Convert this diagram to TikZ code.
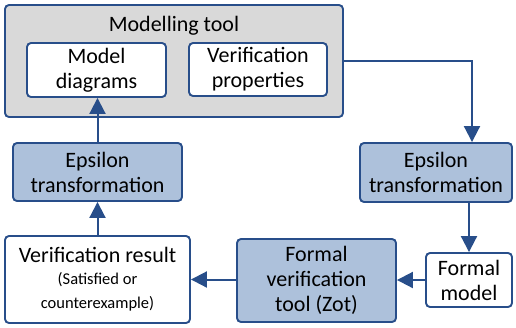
\documentclass[tikz,border=0pt]{standalone}
\usepackage{fontspec}
\setmainfont{Carlito}
\usetikzlibrary{arrows.meta}
\definecolor{edgeblue}{RGB}{40,78,138}
\definecolor{boxblue}{RGB}{173,193,219}
\definecolor{toolgray}{RGB}{217,217,217}
\tikzset{
  x=1pt, y=-1pt,
  box/.style={draw=edgeblue, line width=1.9pt, rounded corners=4pt, align=center,
    inner sep=0pt, font=\fontsize{22}{25}\selectfont},
  whitebox/.style={box, fill=white},
  bluebox/.style={box, fill=boxblue},
  graybox/.style={box, fill=toolgray},
  flow/.style={draw=edgeblue, line width=2pt,
    -{Triangle[length=16pt,width=16pt]}}
}
\begin{document}
\begin{tikzpicture}
\useasboundingbox (0,0) rectangle (516,327);
% modelling tool container
\node[graybox, minimum width=338pt, minimum height=112pt] (tool) at (174,61) {};
\node[font=\fontsize{22}{25}\selectfont, inner sep=0pt] (tooltitle) at (174,26) {Modelling tool};
\node[whitebox, minimum width=139pt, minimum height=54pt] (md) at (96.5,70) {Model\\diagrams};
\node[whitebox, minimum width=138pt, minimum height=53pt] (vp) at (258,69.5) {Verification\\properties};
% transformations and verification chain
\node[bluebox, minimum width=152pt, minimum height=59pt] (epsr) at (436,172.5) {Epsilon\\transformation};
\node[bluebox, minimum width=169pt, minimum height=58pt] (epsl) at (97.5,172) {Epsilon\\transformation};
\node[whitebox, minimum width=86pt, minimum height=54pt] (fm) at (469,280) {Formal\\model};
\node[bluebox, minimum width=159pt, minimum height=83pt] (fvt) at (316.5,280.5) {Formal\\verification\\tool (Zot)};
\node[whitebox, minimum width=185pt, minimum height=87pt] (vr) at (97.5,279.5)
  {Verification result\\[-3pt]{\fontsize{16.5}{25}\selectfont (Satisfied or}\\[-1pt]{\fontsize{16.5}{25}\selectfont counterexample)}};
% connectors
\coordinate (turn) at (472,61);
\draw[flow] (tool.east |- turn) -- (turn) -- (turn |- epsr.north);
\draw[flow] (fm.north |- epsr.south) -- (fm.north);
\draw[flow] (fm.west) -- (fm.west -| fvt.east);
\draw[flow] (fvt.west |- vr.east) -- (vr.east);
\draw[flow] (vr.north) -- (epsl.south);
\draw[flow] (epsl.north) -- (epsl.north |- md.south);
\end{tikzpicture}
\end{document}
